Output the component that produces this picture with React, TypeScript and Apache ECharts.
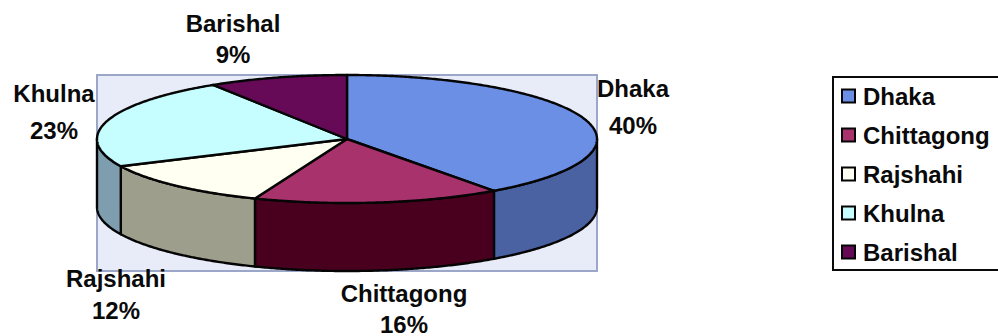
import React, { useEffect, useRef } from "react";
import * as echarts from "echarts";

// Share of each division, in percent, clockwise from twelve o'clock.
const divisions = ["Dhaka", "Chittagong", "Rajshahi", "Khulna", "Barishal"];
const shares = [40, 16, 12, 23, 9];

const topColors = ["#6C8FE6", "#A8326C", "#FFFFF2", "#C6FDFF", "#660A58"];
const sideColors = ["#4A62A2", "#48001E", "#9E9E8C", "#7E9EB0", "#3A0032"];

// Where each slice's caption sits: centre x, name centre y, percent centre y.
const captionLayout = [
  [633, 88, 125],
  [404, 293, 324],
  [116, 278, 310],
  [54, 93, 130],
  [233, 23, 54],
];

const FONT = "Liberation Sans";
const FONT_SIZE = 24;
const DEPTH = 68 / 64; // pie thickness, in units of the vertical radius

function arc(api: any, from: number, to: number, drop: number) {
  const steps = Math.max(2, Math.ceil(Math.abs(to - from) * 720));
  const pts: number[][] = [];
  for (let i = 0; i <= steps; i++) {
    const t = (from + ((to - from) * i) / steps) * 2 * Math.PI;
    pts.push(api.coord([Math.sin(t), Math.cos(t) - drop]));
  }
  return pts;
}

function renderSlice(colorIdx: number) {
  return (_: any, api: any) => {
    const from = api.value(0);
    const to = api.value(1);
    const line = { stroke: "#050505", lineWidth: 2.4, lineJoin: "round" };
    const children: any[] = [];

    // Only the front half of the rim (between 3 and 9 o'clock) can be seen.
    const a = Math.max(from, 0.25);
    const b = Math.min(to, 0.75);
    if (b > a) {
      const upper = arc(api, a, b, 0);
      const lower = arc(api, a, b, DEPTH).reverse();
      children.push({
        type: "polygon",
        shape: { points: [...upper, ...lower] },
        style: { fill: sideColors[colorIdx], ...line },
      });
    }
    children.push({
      type: "polygon",
      shape: { points: [api.coord([0, 0]), ...arc(api, from, to, 0)] },
      style: { fill: topColors[colorIdx], ...line },
    });
    return { type: "group", children };
  };
}

function captionText(text: string, x: number, y: number) {
  return {
    type: "text",
    x,
    y,
    style: {
      text,
      fontFamily: FONT,
      fontWeight: "bold",
      fontSize: FONT_SIZE,
      fill: "#0A0A0A",
      align: "center",
      verticalAlign: "middle",
    },
  };
}

export default function App() {
  const ref = useRef<HTMLDivElement>(null);

  useEffect(() => {
    const chart = echarts.init(ref.current!, undefined, { renderer: "svg" });
    const total = shares.reduce((s, v) => s + v, 0);
    let running = 0;
    const series = divisions.map((name, i) => {
      const start = running / total;
      running += shares[i];
      return {
        type: "custom",
        name,
        coordinateSystem: "cartesian2d",
        clip: false,
        silent: true,
        itemStyle: { color: topColors[i] },
        encode: { x: 0, y: 1 },
        data: [[start, running / total]],
        renderItem: renderSlice(i),
      };
    });

    chart.setOption({
      animation: false,
      backgroundColor: "#ffffff",
      grid: {
        show: true,
        left: 97,
        top: 75,
        width: 500,
        height: 196,
        backgroundColor: "#E7ECF8",
        borderColor: "#9BA6C8",
        borderWidth: 2,
      },
      xAxis: { type: "value", min: -1, max: 1, show: false },
      yAxis: { type: "value", min: -1 - DEPTH, max: 1, show: false },
      legend: {
        orient: "vertical",
        left: 833,
        top: 77,
        data: divisions,
        icon: "rect",
        itemWidth: 13,
        itemHeight: 13,
        itemGap: 15,
        // The frame runs off the right edge of the page.
        padding: [7, 30, 6, 8],
        borderColor: "#0A0A0A",
        borderWidth: 2,
        backgroundColor: "#ffffff",
        selectedMode: false,
        itemStyle: { borderColor: "#050505", borderWidth: 2 },
        textStyle: {
          fontFamily: FONT,
          fontWeight: "bold",
          fontSize: FONT_SIZE,
          color: "#0A0A0A",
          padding: [0, 0, 0, 3],
        },
      },
      graphic: divisions.flatMap((name, i) => [
        captionText(name, captionLayout[i][0], captionLayout[i][1]),
        captionText(`${shares[i]}%`, captionLayout[i][0], captionLayout[i][2]),
      ]),
      series,
    });
    return () => chart.dispose();
  }, []);

  return (
    <div
      ref={ref}
      style={{ position: "absolute", left: 0, top: 0, width: 998, height: 336 }}
    />
  );
}
